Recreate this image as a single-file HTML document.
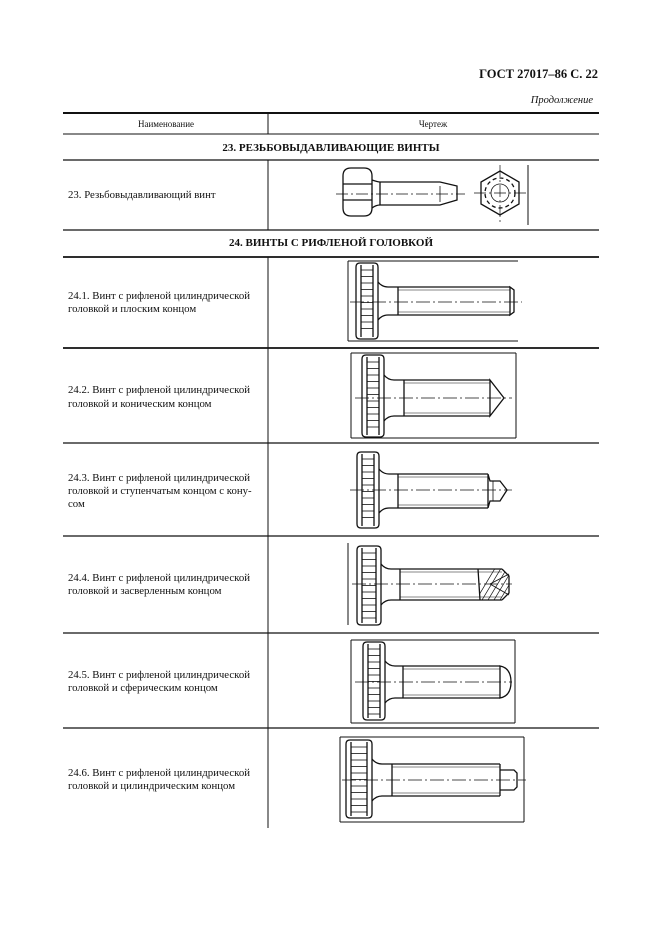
<!DOCTYPE html>
<html><head><meta charset="utf-8"><style>
body{margin:0;background:#fff;}
svg{display:block;}
text{font-family:"Liberation Serif",serif;fill:#111;}
</style></head><body>
<svg id="s" width="661" height="936" viewBox="0 0 661 936" xmlns="http://www.w3.org/2000/svg">
<defs><clipPath id="c4"><path d="M480 569 L502 569 L509 576 L509 593 L502 600 L480 600 Z"/></clipPath></defs>
<text x="598" y="78" font-size="12.5" font-weight="bold" text-anchor="end">ГОСТ 27017–86 С. 22</text>
<text x="593" y="103" font-size="10.5" font-style="italic" text-anchor="end">Продолжение</text>
<g stroke="#111" fill="none">
<line x1="63" y1="113" x2="599" y2="113" stroke-width="2"/>
<line x1="63" y1="134" x2="599" y2="134" stroke-width="1"/>
<line x1="63" y1="160" x2="599" y2="160" stroke-width="1.2"/>
<line x1="63" y1="230" x2="599" y2="230" stroke-width="1.2"/>
<line x1="63" y1="257" x2="599" y2="257" stroke-width="1.8"/>
<line x1="63" y1="348" x2="599" y2="348" stroke-width="1.8"/>
<line x1="63" y1="443" x2="599" y2="443" stroke-width="1.2"/>
<line x1="63" y1="536" x2="599" y2="536" stroke-width="1.2"/>
<line x1="63" y1="633" x2="599" y2="633" stroke-width="1.2"/>
<line x1="63" y1="728" x2="599" y2="728" stroke-width="1.2"/>
<line x1="268" y1="113" x2="268" y2="134" stroke-width="1"/>
<line x1="268" y1="160" x2="268" y2="230" stroke-width="1"/>
<line x1="268" y1="257" x2="268" y2="828" stroke-width="1"/>
</g>
<g font-size="9" text-anchor="middle"><text x="166" y="127">Наименование</text><text x="433" y="127">Чертеж</text></g>
<g font-size="11" font-weight="bold" text-anchor="middle"><text x="331" y="151">23. РЕЗЬБОВЫДАВЛИВАЮЩИЕ ВИНТЫ</text><text x="331" y="246">24. ВИНТЫ С РИФЛЕНОЙ ГОЛОВКОЙ</text></g>
<g font-size="10.8">
<text x="68" y="198">23. Резьбовыдавливающий винт</text>
<text x="68" y="299">24.1. Винт с рифленой цилиндрической</text><text x="68" y="312">головкой и плоским концом</text>
<text x="68" y="393">24.2. Винт с рифленой цилиндрической</text><text x="68" y="407">головкой и коническим концом</text>
<text x="68" y="481">24.3. Винт с рифленой цилиндрической</text><text x="68" y="494">головкой и ступенчатым концом с кону-</text><text x="68" y="507">сом</text>
<text x="68" y="581">24.4. Винт с рифленой цилиндрической</text><text x="68" y="594">головкой и засверленным концом</text>
<text x="68" y="678">24.5. Винт с рифленой цилиндрической</text><text x="68" y="691">головкой и сферическим концом</text>
<text x="68" y="776">24.6. Винт с рифленой цилиндрической</text><text x="68" y="789">головкой и цилиндрическим концом</text>
</g>
<g stroke="#111" fill="none" stroke-width="1.3">
<path d="M343 176 Q343 168 351 168 L364 168 Q372 168 372 176 L372 208 Q372 216 364 216 L351 216 Q343 216 343 208 Z"/>
<line x1="343" y1="184" x2="372" y2="184"/><line x1="343" y1="200" x2="372" y2="200"/>
<path d="M372 180 Q378 182 380 182 L440 182 L457 186 L457 200 L440 205 L380 205 Q376 205 372 208"/>
<line x1="380" y1="182" x2="380" y2="205"/><line x1="440" y1="186" x2="440" y2="202" stroke-width="0.8"/>
<polygon points="500,171 519,182 519,204 500,215 481,204 481,182"/>
<circle cx="500" cy="193" r="15" stroke-dasharray="4 3"/>
<circle cx="500" cy="193" r="9" stroke-width="0.8"/>
<line x1="528" y1="165" x2="528" y2="225" stroke-width="1"/>
<g clip-path="url(#c4)" stroke-width="0.7">
<line x1="470" y1="610" x2="500" y2="560"/><line x1="476" y1="610" x2="506" y2="560"/><line x1="482" y1="610" x2="512" y2="560"/><line x1="488" y1="610" x2="518" y2="560"/><line x1="494" y1="610" x2="524" y2="560"/><line x1="500" y1="610" x2="530" y2="560"/>
</g>
</g>
<g stroke="#111" stroke-width="0.7" stroke-dasharray="12 3 2 3" fill="none">
<line x1="336" y1="194" x2="465" y2="194"/><line x1="474" y1="193" x2="526" y2="193"/><line x1="500" y1="165" x2="500" y2="224"/>
</g>
<g id="screws" stroke="#111" fill="none" stroke-width="1.3"></g>
</svg>
<script>
var g=document.getElementById('screws'),h='';
function knurl(x1,x2,y1,y2){
 var r=4;h+='<path d="M'+(x1+r)+' '+y1+' L'+(x2-r)+' '+y1+' Q'+x2+' '+y1+' '+x2+' '+(y1+r)+' L'+x2+' '+(y2-r)+' Q'+x2+' '+y2+' '+(x2-r)+' '+y2+' L'+(x1+r)+' '+y2+' Q'+x1+' '+y2+' '+x1+' '+(y2-r)+' L'+x1+' '+(y1+r)+' Q'+x1+' '+y1+' '+(x1+r)+' '+y1+' Z"/>';
 var a=x1+5,b=x2-5;h+='<line x1="'+a+'" y1="'+(y1+2)+'" x2="'+a+'" y2="'+(y2-2)+'"/><line x1="'+b+'" y1="'+(y1+2)+'" x2="'+b+'" y2="'+(y2-2)+'"/>';
 for(var y=y1+7;y<y2-4;y+=6.5)h+='<line x1="'+a+'" y1="'+y+'" x2="'+b+'" y2="'+y+'" stroke-width="0.8"/>';
}
function shank(hx,sx,y1,y2,ex,cy){
 h+='<path d="M'+hx+' '+(y1-5)+' Q'+(hx+4)+' '+y1+' '+(hx+10)+' '+y1+' L'+ex+' '+y1+'"/>';
 h+='<path d="M'+hx+' '+(y2+5)+' Q'+(hx+4)+' '+y2+' '+(hx+10)+' '+y2+' L'+ex+' '+y2+'"/>';
 h+='<line x1="'+sx+'" y1="'+y1+'" x2="'+sx+'" y2="'+y2+'"/>';
 h+='<line x1="'+sx+'" y1="'+(y1+3)+'" x2="'+ex+'" y2="'+(y1+3)+'" stroke-width="0.6"/><line x1="'+sx+'" y1="'+(y2-3)+'" x2="'+ex+'" y2="'+(y2-3)+'" stroke-width="0.6"/>';
}
function cl(x1,x2,y){h+='<line x1="'+x1+'" y1="'+y+'" x2="'+x2+'" y2="'+y+'" stroke-width="0.7" stroke-dasharray="14 3 2 3"/>';}
function L(a,b,c,d,w){h+='<line x1="'+a+'" y1="'+b+'" x2="'+c+'" y2="'+d+'"'+(w?' stroke-width="'+w+'"':'')+'/>';}
L(348,261,348,341,1);L(348,261,518,261,1);L(348,341,518,341,1);
knurl(356,378,263,339);shank(378,398,287,315,510,302);
h+='<path d="M510 287 L514 290 L514 312 L510 315 Z"/>';cl(350,522,302);
L(351,353,351,438,1);L(351,353,516,353,1);L(351,438,516,438,1);L(516,353,516,438,1);
knurl(362,384,355,437);shank(384,404,380,416,490,398);
h+='<path d="M490 380 L504 398 L490 416 Z"/>';cl(355,512,398);
knurl(357,379,452,528);shank(379,398,474,508,488,490);
h+='<path d="M488 474 L490 481 L500 481 L507 490 L500 501 L490 501 L488 508 Z"/>';L(493,481,493,501,0.8);cl(350,512,490);
L(348,543,348,625,1);
knurl(357,381,546,625);shank(381,400,569,600,502,584);
h+='<path d="M502 569 L509 576 L509 593 L502 600 M478 569 L480 600"/>';
L(490,584,509,574,0.9);L(490,584,509,595,0.9);cl(352,512,584);
L(351,640,351,723,1);L(351,640,515,640,1);L(351,723,515,723,1);L(515,640,515,723,1);
knurl(363,385,642,720);shank(385,403,666,698,500,682);
h+='<path d="M500 666 Q511 668 511 682 Q511 696 500 698 Z"/>';cl(355,512,682);
L(340,737,340,822,1);L(340,737,524,737,1);L(340,822,524,822,1);L(524,737,524,822,1);
knurl(346,372,740,818);shank(372,392,764,796,500,780);
h+='<path d="M500 764 L500 796 M500 770 L514 770 L517 773 L517 787 L514 790 L500 790"/>';cl(342,526,780);
g.innerHTML=h;
</script>
</body></html>
